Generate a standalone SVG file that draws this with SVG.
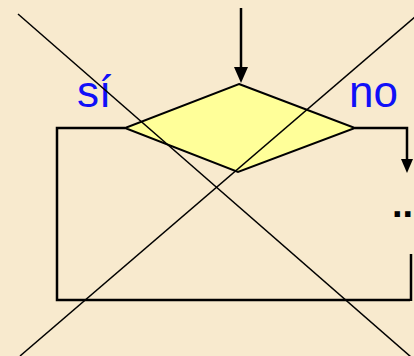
<svg xmlns="http://www.w3.org/2000/svg" width="414" height="356" viewBox="0 0 414 356">
<style>
.conn{fill:none;stroke:#000;stroke-width:2.5}
.x{stroke:#000;stroke-width:1.5}
.lbl{font-family:"Liberation Sans",Arial,sans-serif;font-size:44px;fill:#1010F8}
</style>
<rect width="414" height="356" fill="#F8EACE"/>
<g id="connectors">
<line class="conn" x1="241" y1="8" x2="241" y2="68"/>
<path d="M234,67 L248,67 L241,83 Z" fill="#000"/>
<path class="conn" d="M125,128 L57,128 L57,300 L410,300"/>
<line class="conn" x1="411" y1="254" x2="411" y2="301"/>
<path class="conn" d="M355,128 L407,128 L407,160"/>
<path d="M401,159 L413,159 L407,173 Z" fill="#000"/>
</g>
<g id="decision">
<polygon points="239,84 355,128 238,172 125,128" fill="#FFFF99" stroke="#000" stroke-width="2"/>
</g>
<g id="label-si"><text class="lbl" x="77" y="107">sí</text></g>
<g id="label-no"><text class="lbl" x="349" y="107">no</text></g>
<g id="ellipsis"><text x="392" y="217" font-family="'Liberation Sans',Arial,sans-serif" font-size="38" font-weight="bold" fill="#000">..</text></g>
<g id="cross">
<line class="x" x1="18" y1="14" x2="411" y2="357"/>
<line class="x" x1="20" y1="356" x2="416" y2="16"/>
</g>
</svg>
